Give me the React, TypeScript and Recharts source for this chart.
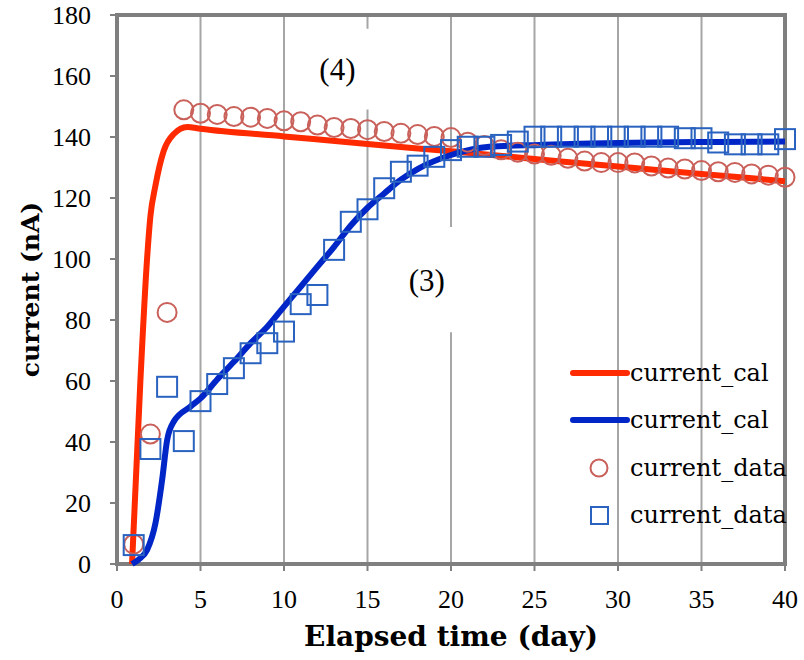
import React from "react";
import {
  ComposedChart,
  Line,
  Scatter,
  XAxis,
  YAxis,
  CartesianGrid,
  ReferenceArea,
  Legend,
} from "recharts";

// measured points (one per day)
const days = [
  1, 2, 3, 4, 5, 6, 7, 8, 9, 10, 11, 12, 13, 14, 15, 16, 17, 18, 19, 20,
  21, 22, 23, 24, 25, 26, 27, 28, 29, 30, 31, 32, 33, 34, 35, 36, 37, 38, 39, 40,
];
const circleData = [
  6.5, 42.6, 82.5, 148.9, 147.8, 147.4, 146.7, 146.5, 146.1, 145.3, 145.0,
  143.9, 143.1, 142.8, 142.4, 141.8, 141.2, 140.8, 140.2, 139.8, 138.3, 137.2,
  135.8, 135.0, 134.4, 134.0, 133.0, 132.1, 131.6, 131.6, 131.5, 130.5, 129.8,
  129.5, 129.0, 128.6, 128.4, 127.9, 127.5, 126.8,
];
const squareData = [
  6.2, 37.7, 58.1, 40.3, 53.4, 59.0, 64.2, 69.1, 72.4, 76.2, 85.2, 88.2, 103.0,
  112.2, 116.3, 123.2, 128.6, 130.6, 133.5, 135.7, 136.8, 136.8, 137.4, 138.5,
  140.1, 140.1, 140.1, 140.1, 140.1, 140.1, 140.1, 140.1, 140.1, 139.6, 139.6,
  138.2, 137.6, 137.6, 137.6, 139.3,
];

// calculated curves
const redCalX = [0.9, 1.4, 1.8, 2.0, 2.3, 2.8, 3.4, 4.2, 5, 10, 15, 20, 25, 30, 35, 40];
const redCalY = [0, 60, 100, 114, 124, 135.5, 141, 143.3, 142.7, 140.2, 137.7, 135.3, 132.8, 130.3, 127.9, 125.5];
const blueCalX = [
  0.9, 1.3, 1.8, 2.3, 2.7, 3.0, 3.4, 4.4, 5, 6, 7, 8, 9, 10, 11, 12, 13, 14,
  15, 16, 17, 18, 20, 22.3, 25.3, 28.3, 32, 36, 40,
];
const blueCalY = [
  0, 1.5, 4.6, 13.3, 27.5, 40.6, 46.7, 51.6, 54.3, 60.5, 66.3, 72.4, 77.8, 84.4,
  90.9, 97.5, 104, 111, 116.8, 121.5, 126, 129.5, 134.1, 136.8, 137.4, 137.9,
  138.2, 138.4, 138.5,
];

const xTicks = [0, 5, 10, 15, 20, 25, 30, 35, 40];
const yTicks = [0, 20, 40, 60, 80, 100, 120, 140, 160, 180];

const RED = "#ff2a00";
const BLUE = "#0026c8";
const CIRCLE = "#c9605a";
const SQUARE = "#2a62c0";
const SERIF = "DejaVu Serif";
const TIMES = "Liberation Serif";

const zip = (xs: number[], ys: number[]) => xs.map((x, i) => ({ x, y: ys[i] }));

const redCal = zip(redCalX, redCalY);
const blueCal = zip(blueCalX, blueCalY);
const circles = zip(days, circleData);
const squares = zip(days, squareData);

const legendItems = [
  { name: "current_cal", kind: "line", color: RED },
  { name: "current_cal", kind: "line", color: BLUE },
  { name: "current_data", kind: "circle", color: CIRCLE },
  { name: "current_data", kind: "square", color: SQUARE },
];

const CircleShape = (props: any) => (
  <circle cx={props.cx} cy={props.cy} r={9.5} fill="none" stroke={CIRCLE} strokeWidth={2} />
);
const SquareShape = (props: any) => (
  <rect x={props.cx - 10} y={props.cy - 10} width={20} height={20} fill="none" stroke={SQUARE} strokeWidth={2} />
);

const XTick = (props: any) => (
  <text x={props.x} y={props.y + 33} textAnchor="middle" fontFamily={TIMES} fontSize={26} fill="#000">
    {props.payload.value}
  </text>
);
const YTick = (props: any) => (
  <text x={props.x} y={props.y + 9} textAnchor="end" fontFamily={TIMES} fontSize={26} fill="#000">
    {props.payload.value}
  </text>
);

const LegendBox = () => (
  <div style={{ fontFamily: SERIF, fontSize: 24, color: "#000" }}>
    {legendItems.map((item, i) => (
      <div key={i} style={{ display: "flex", alignItems: "center", height: 47.5 }}>
        <svg width={60} height={24}>
          {item.kind === "line" && (
            <line x1={3} y1={12} x2={57} y2={12} stroke={item.color} strokeWidth={6} strokeLinecap="round" />
          )}
          {item.kind === "circle" && (
            <circle cx={29} cy={12} r={8.5} fill="none" stroke={item.color} strokeWidth={2} />
          )}
          {item.kind === "square" && (
            <rect x={21} y={4} width={17} height={17} fill="none" stroke={item.color} strokeWidth={2} />
          )}
        </svg>
        <span>{item.name}</span>
      </div>
    ))}
  </div>
);

const YTitle = (props: any) => {
  const { x, y, height } = props.viewBox;
  const cx = x + 30;
  const cy = y + height / 2;
  return (
    <text
      x={cx}
      y={cy}
      transform={`rotate(-90 ${cx} ${cy})`}
      textAnchor="middle"
      dominantBaseline="central"
      fontFamily={SERIF}
      fontWeight="bold"
      fontSize={25}
      fill="#000"
    >
      current (nA)
    </text>
  );
};

const XTitle = (props: any) => {
  const { x, y, width } = props.viewBox;
  return (
    <text
      x={x + width / 2}
      y={y + 72}
      textAnchor="middle"
      dominantBaseline="central"
      fontFamily={SERIF}
      fontWeight="bold"
      fontSize={28}
      fill="#000"
    >
      Elapsed time (day)
    </text>
  );
};

export default function App() {
  return (
    <div style={{ position: "absolute", left: 0, top: 0, background: "#fff" }}>
      <ComposedChart
        width={804}
        height={660}
        margin={{ top: 15, right: 19, bottom: 0, left: 0 }}
      >
        <CartesianGrid horizontal={false} stroke="#a6a6a6" strokeWidth={2} />
        <XAxis
          type="number"
          dataKey="x"
          domain={[0, 40]}
          ticks={xTicks}
          height={96}
          axisLine={false}
          tickSize={7}
          tickMargin={4}
          tickLine={{ stroke: "#808080", strokeWidth: 2 }}
          tick={<XTick />}
          label={<XTitle />}
        />
        <YAxis
          type="number"
          dataKey="y"
          domain={[0, 180]}
          ticks={yTicks}
          width={117}
          axisLine={false}
          tickSize={7}
          tickMargin={19}
          tickLine={{ stroke: "#808080", strokeWidth: 2 }}
          tick={<YTick />}
          label={<YTitle />}
        />
        <ReferenceArea
          x1={11}
          x2={15.4}
          y1={149}
          y2={175.5}
          fill="#fff"
          fillOpacity={1}
          stroke="none"
          label={{ value: "(4)", position: "center", fontFamily: TIMES, fontSize: 31, fill: "#000" }}
        />
        <ReferenceArea
          x1={16.6}
          x2={20.5}
          y1={76}
          y2={110.5}
          fill="#fff"
          fillOpacity={1}
          stroke="none"
          label={{ value: "(3)", position: "center", fontFamily: TIMES, fontSize: 31, fill: "#000" }}
        />
        <ReferenceArea
          x1={0}
          x2={40}
          y1={0}
          y2={180}
          fill="none"
          stroke="#7f7f7f"
          strokeWidth={4}
        />
        <Line
          data={redCal}
          dataKey="y"
          type="monotone"
          stroke={RED}
          strokeWidth={6}
          dot={false}
          activeDot={false}
          isAnimationActive={false}
        />
        <Line
          data={blueCal}
          dataKey="y"
          type="monotone"
          stroke={BLUE}
          strokeWidth={6}
          dot={false}
          activeDot={false}
          isAnimationActive={false}
        />
        <Scatter data={circles} dataKey="y" shape={CircleShape} isAnimationActive={false} />
        <Scatter data={squares} dataKey="y" shape={SquareShape} isAnimationActive={false} />
        <Legend
          layout="horizontal"
          verticalAlign="middle"
          align="center"
          content={<LegendBox />}
          wrapperStyle={{ left: 570, top: 349, width: 234 }}
        />
      </ComposedChart>
    </div>
  );
}
